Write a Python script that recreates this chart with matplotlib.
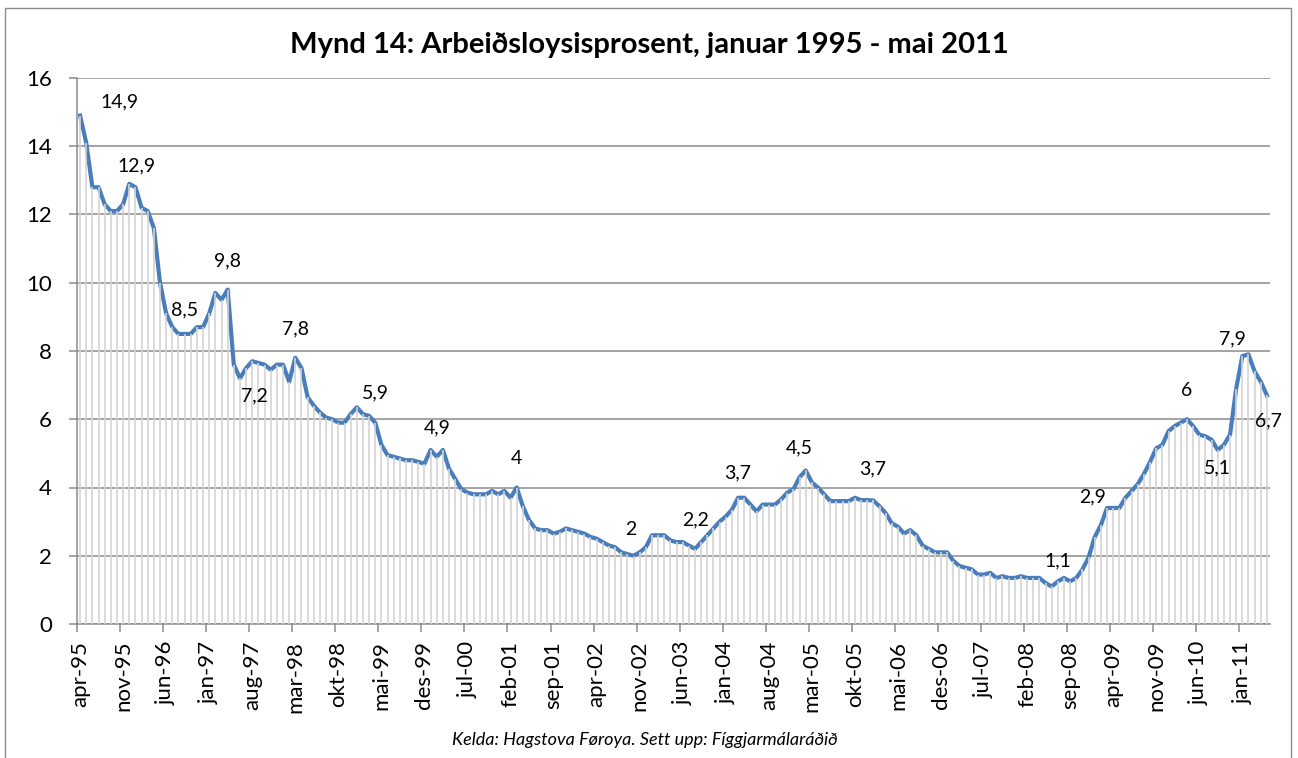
import matplotlib
matplotlib.use('Agg')
import matplotlib.pyplot as plt
from matplotlib.patches import Rectangle

plt.rcParams['font.family'] = ['Lato', 'DejaVu Sans']

# Arbeiðsloysisprosent, mánaðarlig virði frá apr-95 til mai-11
values = [
    14.9, 14.1, 12.8, 12.8, 12.3, 12.1, 12.1, 12.3, 12.9, 12.8, 12.2, 12.1,
    11.6, 10.0, 9.1, 8.7, 8.5, 8.5, 8.5, 8.7, 8.7, 9.1, 9.7, 9.5,
    9.8, 7.6, 7.2, 7.5, 7.7, 7.65, 7.6, 7.45, 7.6, 7.6, 7.1, 7.8,
    7.5, 6.65, 6.4, 6.2, 6.05, 6.0, 5.9, 5.9, 6.15, 6.35, 6.15, 6.1,
    5.9, 5.25, 4.95, 4.9, 4.85, 4.8, 4.8, 4.75, 4.7, 5.1, 4.9, 5.1,
    4.55, 4.25, 3.95, 3.85, 3.8, 3.8, 3.8, 3.9, 3.8, 3.9, 3.7, 4.0,
    3.45, 3.05, 2.8, 2.75, 2.75, 2.65, 2.7, 2.8, 2.75, 2.7, 2.65, 2.55,
    2.5, 2.4, 2.3, 2.25, 2.1, 2.05, 2.0, 2.1, 2.25, 2.6, 2.6, 2.6,
    2.45, 2.4, 2.4, 2.3, 2.2, 2.4, 2.6, 2.8, 3.0, 3.15, 3.35, 3.7,
    3.7, 3.5, 3.3, 3.5, 3.5, 3.5, 3.65, 3.85, 3.95, 4.3, 4.5, 4.15,
    4.0, 3.8, 3.6, 3.6, 3.6, 3.6, 3.7, 3.63, 3.63, 3.62, 3.45, 3.25,
    2.95, 2.85, 2.65, 2.75, 2.6, 2.3, 2.2, 2.1, 2.1, 2.1, 1.85, 1.7,
    1.65, 1.6, 1.45, 1.45, 1.5, 1.35, 1.4, 1.35, 1.35, 1.4, 1.35, 1.35,
    1.35, 1.2, 1.1, 1.25, 1.35, 1.25, 1.35, 1.6, 1.95, 2.55, 2.9, 3.4,
    3.4, 3.4, 3.7, 3.9, 4.1, 4.4, 4.75, 5.15, 5.25, 5.65, 5.8, 5.9,
    6.0, 5.8, 5.55, 5.5, 5.4, 5.1, 5.25, 5.55, 6.9, 7.85, 7.9, 7.4,
    7.1, 6.7,
]

tick_labels = ['apr-95', 'nov-95', 'jun-96', 'jan-97', 'aug-97', 'mar-98', 'okt-98',
               'mai-99', 'des-99', 'jul-00', 'feb-01', 'sep-01', 'apr-02', 'nov-02',
               'jun-03', 'jan-04', 'aug-04', 'mar-05', 'okt-05', 'mai-06', 'des-06',
               'jul-07', 'feb-08', 'sep-08', 'apr-09', 'nov-09', 'jun-10', 'jan-11']

# hvørji punkt hava virðisspjøld, og hvar spjaldið stendur (pixlar)
label_idx = [0, 8, 17, 24, 26, 35, 48, 58, 71, 90, 100, 107, 118, 126,
             158, 166, 180, 185, 190, 193]
label_off = [(39, 14), (7, 18), (0, 24), (0, 29), (14, -18), (0, 29), (0, 30),
             (0, 29), (0, 29), (-3, 26), (1, 29), (0, 25), (-6, 23), (18, 29),
             (6, 26), (-8, 28), (0, 29), (0, -18), (-16, 16), (2, -26)]

x = list(range(len(values)))

fig = plt.figure(figsize=(12.98, 7.58), dpi=100)
ax = fig.add_axes([77 / 1298, 1 - 624 / 758, (1270 - 77) / 1298, (624 - 78) / 758])

grid_col = '#8c8c8c'
ax.set_ylim(0, 16)
ax.set_xlim(-0.5, len(values) - 0.5)
ax.set_yticks(range(0, 17, 2))
ax.yaxis.grid(True, color=grid_col, linewidth=1.1)
ax.set_axisbelow(True)

# loddrættar linjur niður á x-ásin
ax.vlines(x, 0, values, color='#d4d4d4', linewidth=1.2, zorder=3)
ax.plot(x, values, color='#4a7ebb', linewidth=3.0, solid_joinstyle='round', zorder=2)

for i, (dx, dy) in zip(label_idx, label_off):
    txt = ('%g' % round(values[i], 1)).replace('.', ',')
    ax.annotate(txt, (i, values[i]), xytext=(dx, dy), textcoords='offset pixels',
                ha='center', va='center', fontsize=14, color='black', zorder=5)

ax.set_xticks(range(0, len(values), 7))
ax.set_xticklabels(tick_labels, rotation=90, fontsize=16)
ax.set_xticks([k - 0.5 for k in range(0, len(values), 7)], minor=True)
ax.tick_params(axis='x', which='major', length=0, pad=12)
ax.tick_params(axis='x', which='minor', length=6, color=grid_col, width=1.1)
ax.tick_params(axis='y', length=6, color=grid_col, width=1.1, labelsize=16, pad=12)

for side in ['top', 'right']:
    ax.spines[side].set_visible(False)
for side in ['left', 'bottom']:
    ax.spines[side].set_color(grid_col)
    ax.spines[side].set_linewidth(1.1)

fig.text(0.5, 0.941, 'Mynd 14: Arbeiðsloysisprosent, januar 1995 - mai 2011',
         ha='center', va='center', fontsize=21, fontweight='bold')
fig.text(0.497, 0.024, 'Kelda: Hagstova Føroya. Sett upp: Fíggjarmálaráðið',
         ha='center', va='center', fontsize=13, style='italic')

fig.patches.append(Rectangle((5 / 1298, -0.01), (1291 - 5) / 1298, 1.0, transform=fig.transFigure,
                             fill=False, edgecolor='#8c8c8c', linewidth=1))

fig.savefig('out.png', dpi=100)
